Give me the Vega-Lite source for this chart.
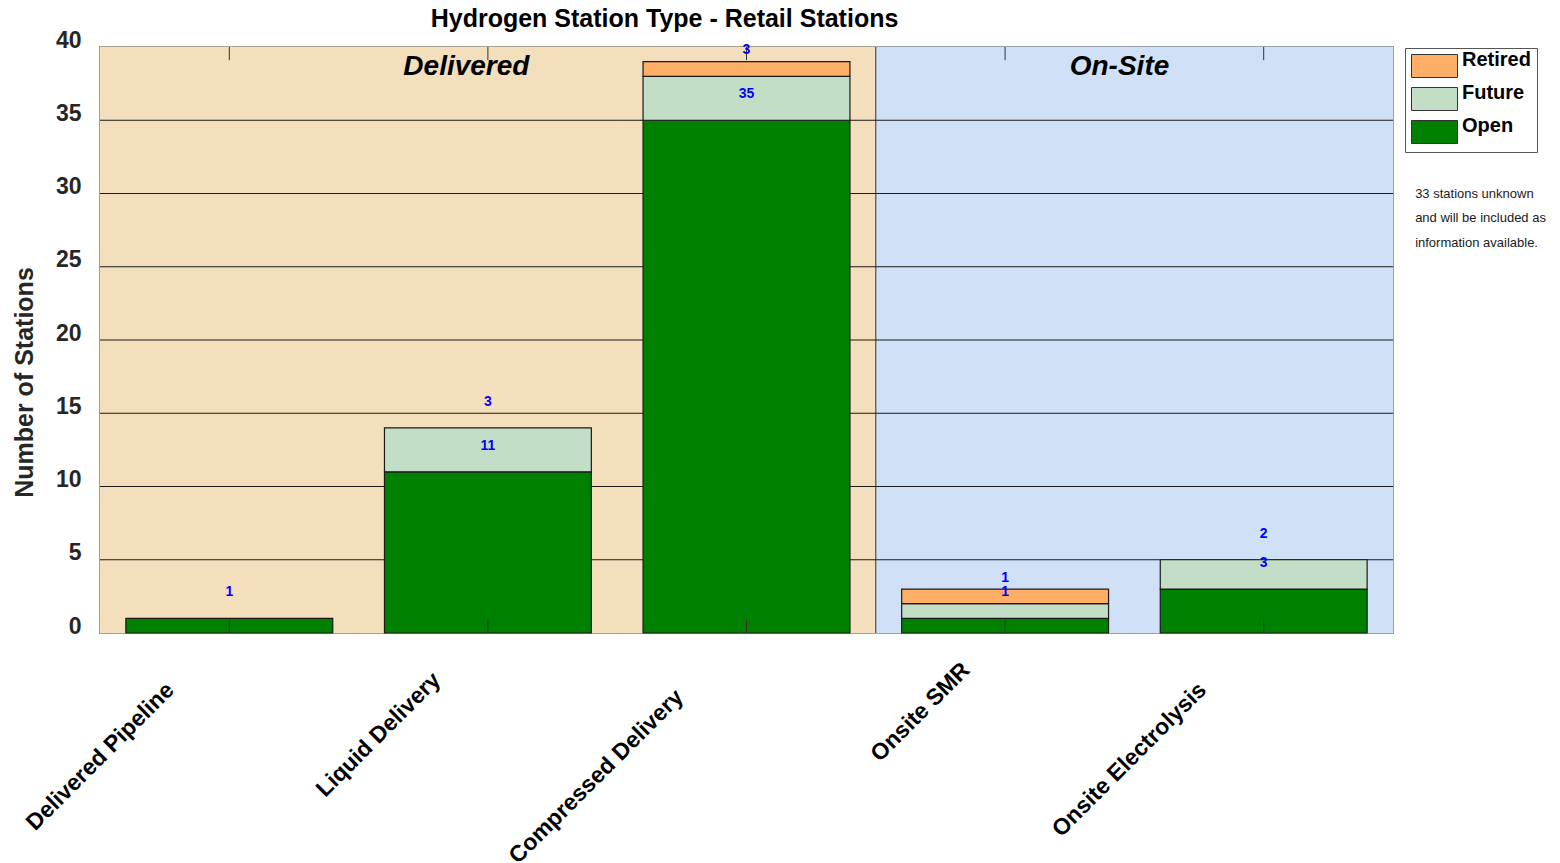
{
  "$schema": "https://vega.github.io/schema/vega-lite/v6.json",
  "width": 1293,
  "height": 586,
  "autosize": {"type": "none"},
  "padding": {"left": 100, "top": 47, "right": 167, "bottom": 230},
  "background": "white",
  "title": {
    "text": "Hydrogen Station Type - Retail Stations",
    "fontSize": 25,
    "fontWeight": "bold",
    "font": "Liberation Sans",
    "color": "#000000",
    "anchor": "middle",
    "frame": "group",
    "dx": -82,
    "baseline": "alphabetic",
    "offset": -23
  },
  "datasets": {
    "counts": [
      {"category": "Delivered Pipeline", "status": "Open", "count": 1},
      {"category": "Delivered Pipeline", "status": "Future", "count": 0},
      {"category": "Delivered Pipeline", "status": "Retired", "count": 0},
      {"category": "Liquid Delivery", "status": "Open", "count": 11},
      {"category": "Liquid Delivery", "status": "Future", "count": 3},
      {"category": "Liquid Delivery", "status": "Retired", "count": 0},
      {"category": "Compressed Delivery", "status": "Open", "count": 35},
      {"category": "Compressed Delivery", "status": "Future", "count": 3},
      {"category": "Compressed Delivery", "status": "Retired", "count": 1},
      {"category": "Onsite SMR", "status": "Open", "count": 1},
      {"category": "Onsite SMR", "status": "Future", "count": 1},
      {"category": "Onsite SMR", "status": "Retired", "count": 1},
      {"category": "Onsite Electrolysis", "status": "Open", "count": 3},
      {"category": "Onsite Electrolysis", "status": "Future", "count": 2},
      {"category": "Onsite Electrolysis", "status": "Retired", "count": 0}
    ],
    "categories": [
      {"category": "Delivered Pipeline", "group": "Delivered"},
      {"category": "Liquid Delivery", "group": "Delivered"},
      {"category": "Compressed Delivery", "group": "Delivered"},
      {"category": "Onsite SMR", "group": "On-Site"},
      {"category": "Onsite Electrolysis", "group": "On-Site"}
    ],
    "gridlines": [{"v": 5}, {"v": 10}, {"v": 15}, {"v": 20}, {"v": 25}, {"v": 30}, {"v": 35}]
  },
  "layer": [
    {
      "data": {"name": "categories"},
      "mark": {"type": "bar", "width": {"band": 1.25}, "strokeWidth": 1},
      "encoding": {
        "x": {"field": "category", "type": "nominal", "sort": null, "title": null},
        "y": {"datum": 40, "type": "quantitative"},
        "y2": {"datum": 0},
        "fill": {
          "field": "group",
          "type": "nominal",
          "legend": null,
          "scale": {"domain": ["Delivered", "On-Site"], "range": ["#F3DFBB", "#CFE0F7"]}
        },
        "stroke": {
          "field": "group",
          "type": "nominal",
          "legend": null,
          "scale": {"domain": ["Delivered", "On-Site"], "range": ["#F3DFBB", "#CFE0F7"]}
        }
      }
    },
    {
      "data": {"values": [{"edge": "Delivered | On-Site"}]},
      "mark": {"type": "rule", "color": "#333333", "strokeWidth": 1},
      "encoding": {
        "x": {"datum": "Onsite SMR", "bandPosition": -0.125}
      }
    },
    {
      "data": {"name": "gridlines"},
      "mark": {"type": "rule", "color": "#1a1a1a", "strokeWidth": 1},
      "encoding": {
        "y": {"field": "v", "type": "quantitative"}
      }
    },
    {
      "data": {"name": "counts"},
      "transform": [
        {"filter": "datum.count > 0"},
        {"calculate": "indexof(['Open','Future','Retired'], datum.status)", "as": "stack_order"}
      ],
      "mark": {"type": "bar", "stroke": "#1a1a1a", "strokeWidth": 1.2},
      "encoding": {
        "x": {
          "field": "category",
          "type": "nominal",
          "sort": null,
          "title": null,
          "scale": {"paddingInner": 0.2, "paddingOuter": 0.1},
          "axis": {
            "orient": "bottom",
            "labelAngle": -45,
            "labelAlign": "right",
            "labelBaseline": "middle",
            "labelFont": "Liberation Sans",
            "labelFontSize": 23,
            "labelFontWeight": "bold",
            "labelColor": "#000000",
            "labelLimit": 500,
            "labelOverlap": false,
            "ticks": false,
            "domain": false,
            "grid": false,
            "labelOffset": {
              "condition": [
                {"test": "datum.value === 'Delivered Pipeline'", "value": -59},
                {"test": "datum.value === 'Liquid Delivery'", "value": -51},
                {"test": "datum.value === 'Compressed Delivery'", "value": -67},
                {"test": "datum.value === 'Onsite SMR'", "value": -39}
              ],
              "value": -61
            },
            "labelPadding": {
              "condition": [
                {"test": "datum.value === 'Delivered Pipeline'", "value": 53},
                {"test": "datum.value === 'Liquid Delivery'", "value": 43},
                {"test": "datum.value === 'Compressed Delivery'", "value": 60},
                {"test": "datum.value === 'Onsite SMR'", "value": 33}
              ],
              "value": 53
            }
          }
        },
        "y": {
          "aggregate": "sum",
          "field": "count",
          "type": "quantitative",
          "stack": "zero",
          "scale": {"domain": [0, 40], "nice": false},
          "axis": {
            "title": "Number of Stations",
            "titleFont": "Liberation Sans",
            "titleFontSize": 25,
            "titleFontWeight": "bold",
            "titleColor": "#262626",
            "titleAngle": -90,
            "titleAlign": "center",
            "titleBaseline": "middle",
            "titleX": -76,
            "titleY": 335,
            "values": [0, 5, 10, 15, 20, 25, 30, 35, 40],
            "labelFont": "Liberation Sans",
            "labelFontSize": 23,
            "labelFontWeight": "bold",
            "labelColor": "#262626",
            "labelBaseline": "middle",
            "labelOffset": -7,
            "labelPadding": 19,
            "ticks": false,
            "domain": false,
            "grid": false
          }
        },
        "color": {
          "field": "status",
          "type": "nominal",
          "title": null,
          "scale": {"domain": ["Retired", "Future", "Open"], "range": ["#FEAE66", "#C3DEC7", "#008000"]},
          "legend": {
            "orient": "none",
            "legendX": 1305,
            "legendY": 1,
            "direction": "vertical",
            "symbolType": "M-1,-1H3V1H-1Z",
            "symbolSize": 529,
            "symbolStrokeColor": "#333333",
            "symbolStrokeWidth": 1,
            "symbolOpacity": 1,
            "labelFont": "Liberation Sans",
            "labelFontSize": 20,
            "labelFontWeight": "bold",
            "labelColor": "#000000",
            "labelBaseline": "alphabetic",
            "labelOffset": 27,
            "labelLimit": 300,
            "labelExpr": "datum.label + '\u00a0\u00a0\u00a0\u00a0\u00a0\u00a0\u00a0\u00a0\u00a0\u00a0'",
            "strokeColor": "#555555",
            "fillColor": "white",
            "padding": 6,
            "rowPadding": 3
          }
        },
        "order": {"field": "stack_order", "type": "quantitative"}
      }
    },
    {
      "data": {"name": "categories"},
      "mark": {"type": "rule", "color": "#333333", "strokeWidth": 1},
      "encoding": {
        "x": {"field": "category", "type": "nominal", "sort": null, "title": null},
        "y": {"datum": 0, "type": "quantitative"},
        "y2": {"datum": 0.9}
      }
    },
    {
      "data": {"name": "categories"},
      "mark": {"type": "rule", "color": "#333333", "strokeWidth": 1},
      "encoding": {
        "x": {"field": "category", "type": "nominal", "sort": null, "title": null},
        "y": {"datum": 40, "type": "quantitative"},
        "y2": {"datum": 39.1}
      }
    },
    {
      "data": {"name": "counts"},
      "transform": [
        {"calculate": "indexof(['Open','Future','Retired'], datum.status)", "as": "stack_order"},
        {"filter": "datum.status !== 'Retired' && datum.count > 0"}
      ],
      "mark": {"type": "text", "color": "#0000FF", "font": "Liberation Sans", "fontSize": 14, "fontWeight": "bold", "baseline": "middle", "align": "center", "dy": -26},
      "encoding": {
        "x": {"field": "category", "type": "nominal", "sort": null, "title": null},
        "y": {"aggregate": "sum", "field": "count", "type": "quantitative", "stack": "zero"},
        "detail": {"field": "status"},
        "order": {"field": "stack_order", "type": "quantitative"},
        "text": {"aggregate": "sum", "field": "count", "type": "quantitative"}
      }
    },
    {
      "data": {"values": [{"group": "Delivered"}]},
      "mark": {"type": "text", "font": "Liberation Sans", "fontSize": 28, "fontWeight": "bold", "fontStyle": "italic", "color": "#000000", "baseline": "middle", "align": "center", "dy": 20},
      "encoding": {
        "x": {"datum": "Liquid Delivery", "bandPosition": 0.396},
        "y": {"datum": 40, "type": "quantitative"},
        "text": {"field": "group"}
      }
    },
    {
      "data": {"values": [{"group": "On-Site"}]},
      "mark": {"type": "text", "font": "Liberation Sans", "fontSize": 28, "fontWeight": "bold", "fontStyle": "italic", "color": "#000000", "baseline": "middle", "align": "center", "dy": 20},
      "encoding": {
        "x": {"datum": "Onsite SMR", "bandPosition": 1.053},
        "y": {"datum": 40, "type": "quantitative"},
        "text": {"field": "group"}
      }
    },
    {
      "data": {"values": [{"note": ["33 stations unknown", "and will be included as", "information available."]}]},
      "mark": {"type": "text", "font": "Liberation Sans", "fontSize": 13, "color": "#1a1a1a", "align": "left", "baseline": "middle", "lineHeight": 24.5},
      "encoding": {
        "x": {"datum": "Onsite Electrolysis", "bandPosition": 1.232},
        "y": {"datum": 30, "type": "quantitative"},
        "text": {"field": "note"}
      }
    }
  ],
  "config": {
    "view": {"stroke": "#333333", "strokeWidth": 1.5},
    "font": "Liberation Sans"
  }
}
